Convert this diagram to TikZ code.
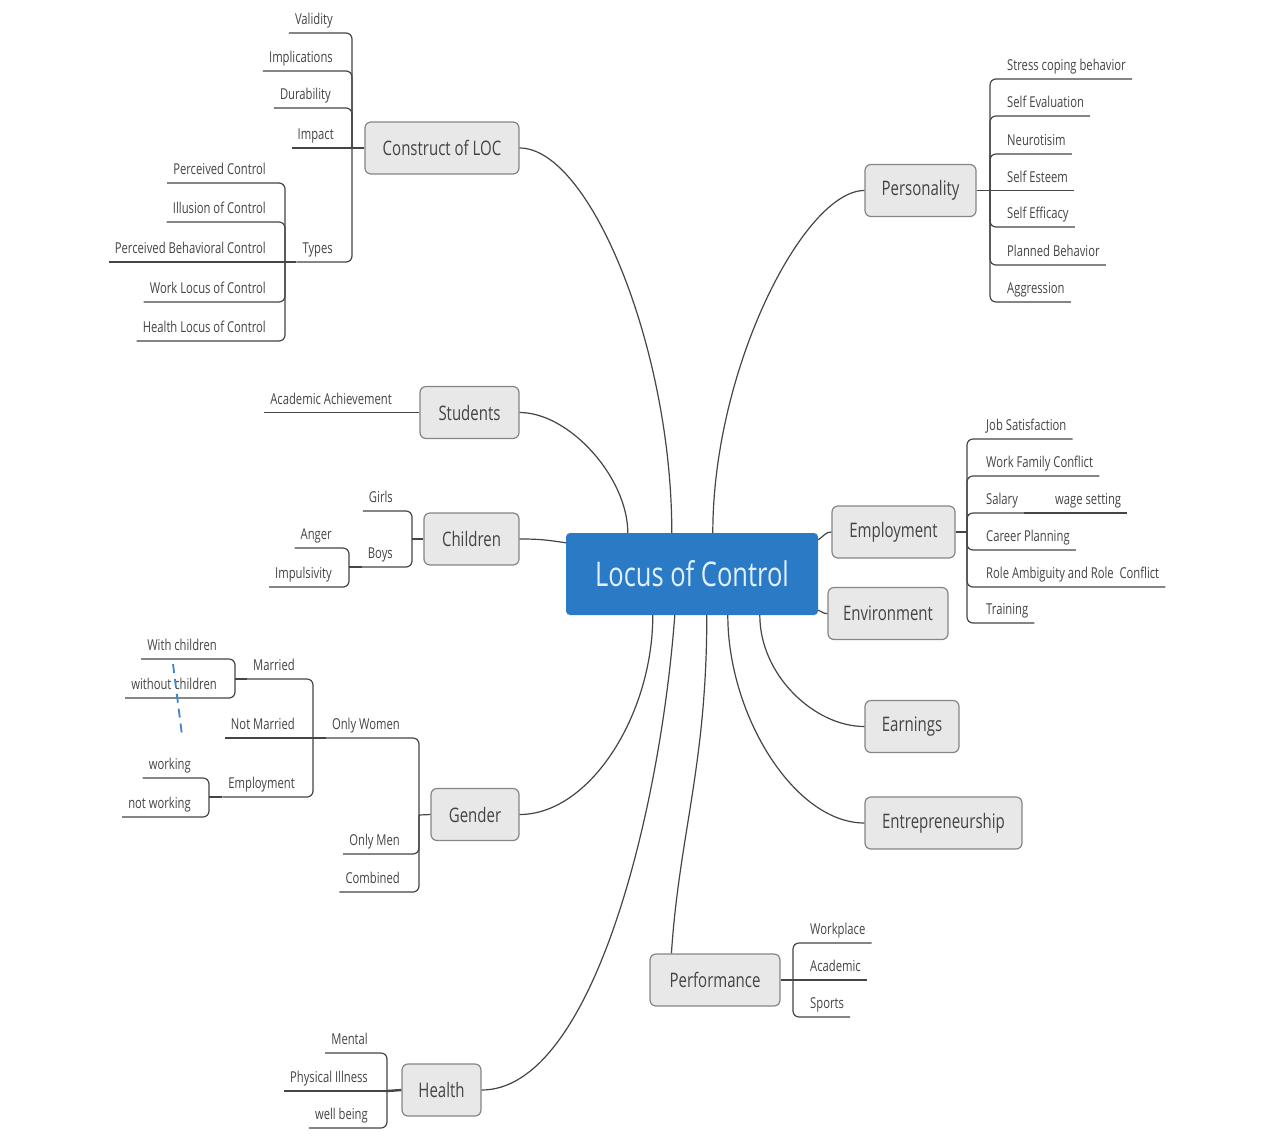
\documentclass[tikz,border=0pt]{standalone}
\usepackage{fontspec}
\setmainfont{Open Sans}[FakeStretch=0.75]
\usetikzlibrary{calc}
\definecolor{linec}{HTML}{454545}
\definecolor{boxfill}{HTML}{E8E8E8}
\definecolor{boxdraw}{HTML}{858585}
\definecolor{txt}{HTML}{444444}
\definecolor{rootfill}{HTML}{2B7AC6}
\definecolor{roottxt}{HTML}{E2F1FF}
\definecolor{relc}{HTML}{3F86D0}
\begin{document}
\begin{tikzpicture}[x=1pt,y=-1pt,
 topic/.style={draw=boxdraw, fill=boxfill, line width=1.2pt, rounded corners=6pt, minimum height=52pt, inner xsep=6pt, font=\fontsize{20}{24}\selectfont, text=txt},
 root/.style={fill=rootfill, rounded corners=4pt, minimum width=252pt, minimum height=82pt, font=\fontsize{34}{40}\selectfont, text=roottxt},
 sub/.style={font=\fontsize{15}{18}\selectfont, text=txt, inner xsep=6pt, inner ysep=3pt, text height=11pt, text depth=5pt},
 subl/.style={sub, anchor=south east},
 subr/.style={sub, anchor=south west},
 conn/.style={draw=linec, line width=1.2pt},
 br/.style={conn, rounded corners=6pt},
 stub/.style={conn, line width=2.4pt},
 relline/.style={draw=relc, dash pattern=on 9pt off 6pt, line width=1.8pt},
]
\useasboundingbox[fill=white] (0,0) rectangle (1265,1141);

% ---------- topics ----------
\node[root] (root) at (692,574) {Locus of Control};
\node[topic, minimum width=154pt] (construct) at (442,148) {Construct of LOC};
\node[topic, minimum width=111pt] (personality) at (920.5,190.5) {Personality};
\node[topic, minimum width=99pt] (students) at (469.5,412.5) {Students};
\node[topic, minimum width=95pt] (children) at (471.5,539) {Children};
\node[topic, minimum width=123pt] (employment) at (893.5,532) {Employment};
\node[topic, minimum width=120pt] (environment) at (888,613.5) {Environment};
\node[topic, minimum width=94pt] (earnings) at (912,726.5) {Earnings};
\node[topic, minimum width=157pt] (entre) at (943.5,823) {Entrepreneurship};
\node[topic, minimum width=88pt] (gender) at (475,814.5) {Gender};
\node[topic, minimum width=130pt] (performance) at (715,980) {Performance};
\node[topic, minimum width=79pt] (health) at (441.5,1090) {Health};

% ---------- root connectors ----------
\coordinate (rN1) at ($(root.north west)+(62,0)$);
\coordinate (rN2) at ($(root.north west)+(106,0)$);
\coordinate (rN3) at ($(root.north west)+(147,0)$);
\coordinate (rS1) at ($(root.south west)+(87,0)$);
\coordinate (rS2) at ($(root.south west)+(109,0)$);
\coordinate (rS3) at ($(root.south west)+(141,0)$);
\coordinate (rS4) at ($(root.south west)+(162,0)$);
\coordinate (rS5) at ($(root.south west)+(194,0)$);
\coordinate (rW) at ($(root.north west)+(0,10)$);
\coordinate (rE1) at ($(root.north east)+(0,7)$);
\coordinate (rE2) at ($(root.south east)+(0,-5)$);
\coordinate (perfTop) at ($(performance.north west)+(22,0)$);

\draw[conn] (rN2) .. controls +(0,-185) and +(70,0) .. (construct.east);
\draw[conn] (rN1) .. controls +(0,-55) and +(50,0) .. (students.east);
\draw[conn] (rN3) .. controls +(0,-165) and +(-60,0) .. (personality.west);
\draw[conn] (rW) .. controls +(-20,-3) and +(20,0) .. (children.east);
\draw[conn] (rE1) .. controls +(6,-4) and +(-6,0) .. (employment.west);
\draw[conn] (rE2) .. controls +(5,2) and +(-5,0) .. (environment.west);
\draw[conn] (rS5) .. controls +(0,60) and +(-50,0) .. (earnings.west);
\draw[conn] (rS4) .. controls +(0,100) and +(-70,0) .. (entre.west);
\draw[conn] (rS3) .. controls +(0,150) and +(8,-120) .. (perfTop);
\draw[conn] (rS2) .. controls +(-15,200) and +(110,0) .. (health.east);
\draw[conn] (rS1) .. controls +(0,100) and +(70,0) .. (gender.east);

% ---------- Construct of LOC ----------
\coordinate (cj) at (352,148);
\draw[conn] (construct.west) -- (cj);
\node[subl] (validity) at (339,33) {Validity};
\node[subl] (implic) at (339,71) {Implications};
\node[subl] (dura) at (337,108) {Durability};
\node[subl] (impact) at (340,148) {Impact};
\node[subl] (types) at (339,262) {Types};
\foreach \n in {validity,implic,dura,types} \draw[br] (cj) |- (\n.south west);
\draw[conn] (cj) -- (impact.south west);
\coordinate (tj) at (285,262);
\draw[conn] (types.south west) -- (tj);
\node[subl] (pc) at (272,183) {Perceived Control};
\node[subl] (ic) at (272,222) {Illusion of Control};
\node[subl] (pbc) at (272,262) {Perceived Behavioral Control};
\node[subl] (wlc) at (272,302) {Work Locus of Control};
\node[subl] (hlc) at (272,341) {Health Locus of Control};
\foreach \n in {pc,ic,wlc,hlc} \draw[br] (tj) |- (\n.south west);
\draw[conn] (tj) -- (pbc.south west);

% ---------- Personality ----------
\coordinate (pj) at (990,190.5);
\draw[conn] (personality.east) -- (pj);
\node[subr] (stress) at (1001,79) {Stress coping behavior};
\node[subr] (selfeval) at (1001,116) {Self Evaluation};
\node[subr] (neuro) at (1001,154) {Neurotisim};
\node[subr] (esteem) at (1001,190.5) {Self Esteem};
\node[subr] (efficacy) at (1001,227) {Self Efficacy};
\node[subr] (planned) at (1001,265) {Planned Behavior};
\node[subr] (aggr) at (1001,302) {Aggression};
\foreach \n in {stress,selfeval,neuro,efficacy,planned,aggr} \draw[br] (pj) |- (\n.south east);
\draw[conn] (pj) -- (esteem.south east);

% ---------- Students ----------
\node[subl] (acach) at (398,412.5) {Academic Achievement};
\draw[conn] (students.west) -- (acach.south west);

% ---------- Children ----------
\coordinate (chj) at (412,539);
\draw[conn] (children.west) -- (chj);
\node[subl] (girls) at (399,511) {Girls};
\node[subl] (boys) at (399,567) {Boys};
\foreach \n in {girls,boys} \draw[br] (chj) |- (\n.south west);
\coordinate (bj) at (349,567);
\draw[conn] (boys.south west) -- (bj);
\node[subl] (anger) at (338,548) {Anger};
\node[subl] (impuls) at (338,587) {Impulsivity};
\foreach \n in {anger,impuls} \draw[br] (bj) |- (\n.south west);

% ---------- Employment ----------
\coordinate (ej) at (967,532);
\draw[stub] (employment.east) -- (ej);
\node[subr] (jobsat) at (980,439) {Job Satisfaction};
\node[subr] (wfc) at (980,476) {Work Family Conflict};
\node[subr] (salary) at (980,513) {Salary};
\node[subr] (career) at (980,550) {Career Planning};
\node[subr] (role) at (980,587) {Role Ambiguity and Role\ \ Conflict};
\node[subr] (training) at (980,623) {Training};
\foreach \n in {jobsat,wfc,salary,career,role,training} \draw[br] (ej) |- (\n.south east);
\node[subr] (wage) at (1049,513) {wage setting};
\draw[conn] (salary.south east) -- (wage.south east);

% ---------- Gender ----------
\coordinate (gj) at (419,815);
\draw[conn] (gender.west) -- (gj);
\node[subl] (onlywomen) at (406,738) {Only Women};
\node[subl] (onlymen) at (406,854) {Only Men};
\node[subl] (combined) at (406,892) {Combined};
\foreach \n in {onlywomen,onlymen,combined} \draw[br] (gj) |- (\n.south west);
\coordinate (owj) at (313,738);
\draw[conn] (onlywomen.south west) -- (owj);
\node[subl] (married) at (301,679) {Married};
\node[subl] (notmarried) at (301,738) {Not Married};
\node[subl] (gemp) at (301,797) {Employment};
\foreach \n in {married,gemp} \draw[br] (owj) |- (\n.south west);
\draw[conn] (owj) -- (notmarried.south west);
\coordinate (mj) at (235,679);
\draw[conn] (married.south west) -- (mj);
\node[subl] (withch) at (223,659) {With children};
\node[subl] (withoutch) at (223,698) {without children};
\foreach \n in {withch,withoutch} \draw[br] (mj) |- (\n.south west);
\coordinate (gej) at (209,797);
\draw[conn] (gemp.south west) -- (gej);
\node[subl] (working) at (197,778) {working};
\node[subl] (notworking) at (197,817) {not working};
\foreach \n in {working,notworking} \draw[br] (gej) |- (\n.south west);
\coordinate (relA) at (173,664);
\coordinate (relB) at (182,735);
\draw[relline] (relA) -- (relB);

% ---------- Performance ----------
\coordinate (pfj) at (793,980);
\draw[stub] (performance.east) -- (pfj);
\node[subr] (workplace) at (804,943) {Workplace};
\node[subr] (academic) at (804,980) {Academic};
\node[subr] (sports) at (804,1017) {Sports};
\foreach \n in {workplace,sports} \draw[br] (pfj) |- (\n.south east);
\draw[conn] (pfj) -- (academic.south east);

% ---------- Health ----------
\coordinate (hj) at (387,1091);
\draw[stub] (health.west) -- (hj);
\node[subl] (mental) at (374,1053) {Mental};
\node[subl] (physical) at (374,1091) {Physical Illness};
\node[subl] (wellbeing) at (374,1128) {well being};
\foreach \n in {mental,wellbeing} \draw[br] (hj) |- (\n.south west);
\draw[conn] (hj) -- (physical.south west);
\end{tikzpicture}
\end{document}
